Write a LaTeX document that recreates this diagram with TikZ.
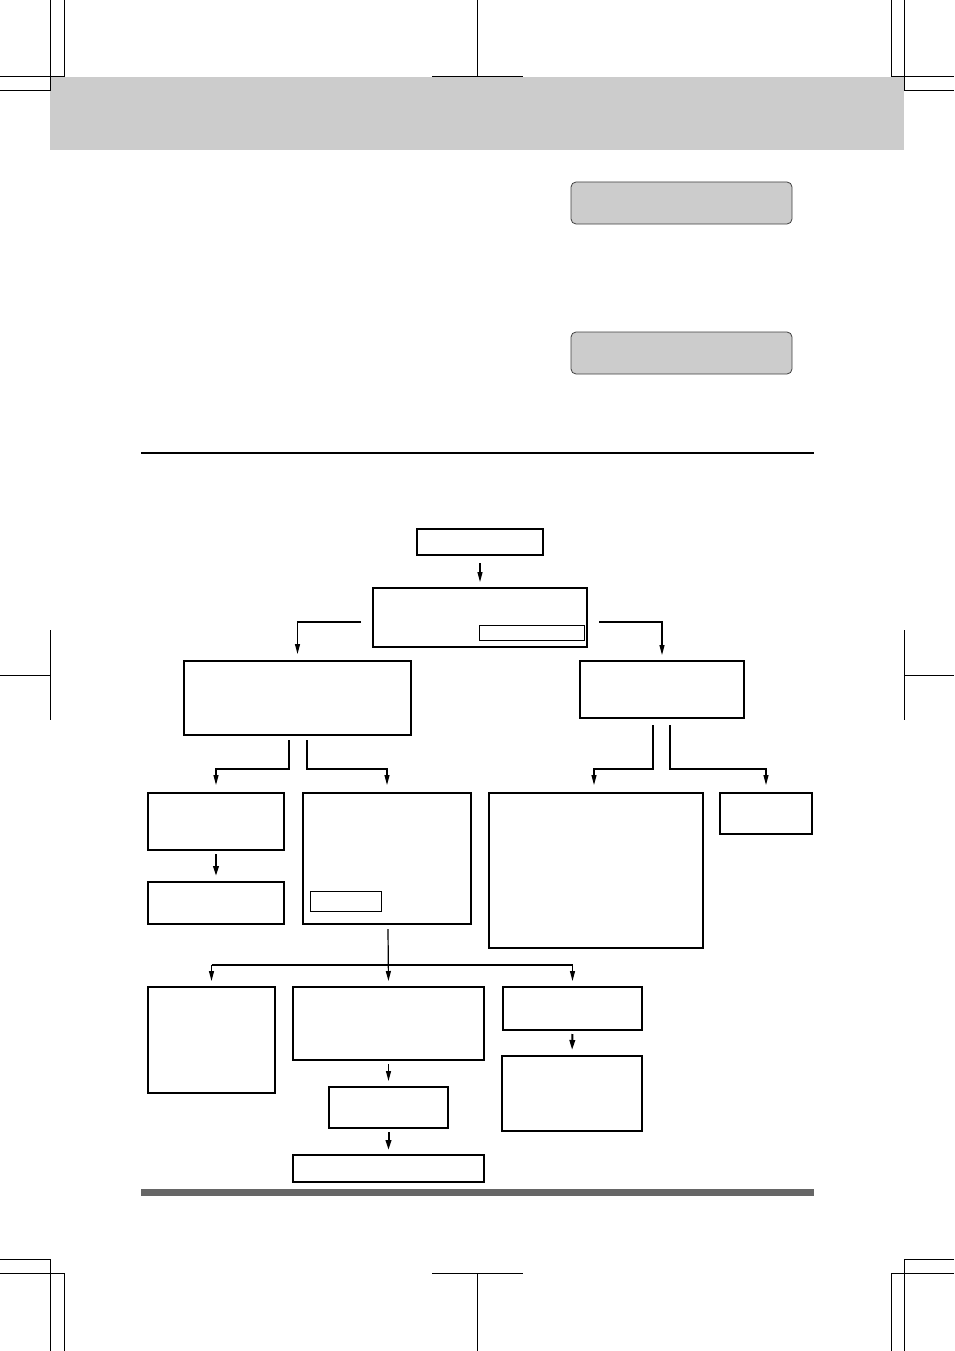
\documentclass[tikz,border=0pt]{standalone}
\usetikzlibrary{arrows.meta,calc}
\definecolor{bandgray}{HTML}{CCCCCC}
\definecolor{bargray}{HTML}{666666}
\begin{document}
\begin{tikzpicture}[x=1pt,y=-1pt,
  fbox/.style={draw=black,line width=2pt,inner sep=0pt,fill=white},
  thinbox/.style={draw=black,line width=1pt,inner sep=0pt},
  lcdbox/.style={draw=black!75,line width=0.8pt,fill=bandgray,rounded corners=5pt,inner sep=0pt},
  crop/.style={line width=1pt},
  conn/.style={line width=1.2pt},
  arr/.style={line width=1.2pt,-{Triangle[length=10pt,width=5pt]}},
  tarr/.style={line width=2pt,-{Triangle[length=10pt,width=5.5pt]}}]
\useasboundingbox (0,0) rectangle (954,1351);
% header band
\fill[bandgray] (50,77) rectangle (904,150);
% crop marks top
\draw[crop] (50,0) -- (50,91) (64,0) -- (64,77) (0,77) -- (64,77) (0,91) -- (50,91);
\draw[crop] (891,0) -- (891,77) (904,0) -- (904,91) (891,77) -- (954,77) (904,91) -- (954,91);
\draw[crop] (477.5,0) -- (477.5,77) (432,77) -- (523,77);
% crop marks sides
\draw[crop] (50,630) -- (50,720) (0,675) -- (50,675);
\draw[crop] (904,630) -- (904,720) (904,675) -- (954,675);
% crop marks bottom
\draw[crop] (0,1259) -- (50,1259) -- (50,1351) (0,1273) -- (64,1273) (64,1273) -- (64,1351);
\draw[crop] (954,1259) -- (904,1259) -- (904,1351) (954,1273) -- (891,1273) (891,1273) -- (891,1351);
\draw[crop] (432,1273) -- (523,1273) (477.5,1273) -- (477.5,1351);
% LCD boxes
\node[lcdbox,minimum width=221pt,minimum height=42pt] (lcd1) at (681.5,203) {};
\node[lcdbox,minimum width=221pt,minimum height=42pt] (lcd2) at (681.5,353) {};
% rule and bottom bar
\draw[line width=2pt] (141,453) -- (814,453);
\fill[bargray] (141,1189) rectangle (814,1196);
% flowchart boxes
\node[fbox,minimum width=126pt,minimum height=26pt] (top) at (480,542) {};
\node[fbox,minimum width=214pt,minimum height=59pt] (b2) at (480,617.5) {};
\node[thinbox,minimum width=105pt,minimum height=15pt] (b2in) at (531.5,632.5) {};
\node[fbox,minimum width=227pt,minimum height=74pt] (L1) at (297.5,698) {};
\node[fbox,minimum width=164pt,minimum height=57pt] (R1) at (662,689.5) {};
\node[fbox,minimum width=136pt,minimum height=57pt] (A) at (216,821.5) {};
\node[fbox,minimum width=136pt,minimum height=42pt] (B) at (216,903) {};
\node[fbox,minimum width=168pt,minimum height=131pt] (C) at (387,858.5) {};
\node[thinbox,minimum width=71.5pt,minimum height=20pt] (Cin) at (345.75,901) {};
\node[fbox,minimum width=214pt,minimum height=155pt] (D) at (596,870.5) {};
\node[fbox,minimum width=92pt,minimum height=41pt] (E) at (766,813.5) {};
\node[fbox,minimum width=127pt,minimum height=106pt] (F) at (211.5,1040) {};
\node[fbox,minimum width=191pt,minimum height=73pt] (G) at (388.5,1023.5) {};
\node[fbox,minimum width=119pt,minimum height=41pt] (H) at (388.5,1107.5) {};
\node[fbox,minimum width=191pt,minimum height=27pt] (I) at (388.5,1168.5) {};
\node[fbox,minimum width=139pt,minimum height=43pt] (J) at (572.5,1008.5) {};
\node[fbox,minimum width=140pt,minimum height=75pt] (K) at (572,1093.5) {};
% connectors
\draw[arr,shorten <=7pt,shorten >=5pt] (top.south) -- (b2.north);
\draw[arr,shorten >=6pt] ([xshift=-11pt,yshift=-4.5pt]b2.west) -| (L1.north);
\draw[arr,shorten >=5pt] ([xshift=11pt,yshift=-4.5pt]b2.east) -| (R1.north);
\draw[arr,shorten >=7pt] ([xshift=-8.5pt,yshift=-4pt]L1.south) |- ($(A.north)+(0,-23)$) -- (A.north);
\draw[arr,shorten >=7pt] ([xshift=9.5pt,yshift=-4pt]L1.south) |- ($(C.north)+(0,-23)$) -- (C.north);
\draw[arr,shorten >=7pt] ([xshift=-9pt,yshift=-6pt]R1.south) |- ($(D.north)+(-2,-23)$) -- ($(D.north)+(-2,0)$);
\draw[arr,shorten >=7pt] ([xshift=8pt,yshift=-6pt]R1.south) |- ($(E.north)+(0,-23)$) -- (E.north);
\draw[tarr,shorten <=3pt,shorten >=5pt] (A.south) -- (B.north);
\coordinate (hub) at (388,965);
\draw[arr,shorten >=5pt] ([xshift=1pt,yshift=-4pt]C.south) -- (G.north);
\draw[conn] (F.north |- hub) -- (J.north |- hub);
\draw[arr,shorten >=5pt] (F.north |- hub) -- (F.north);
\draw[arr,shorten >=5pt] (J.north |- hub) -- (J.north);
\draw[arr,shorten <=3pt,shorten >=5pt] (G.south) -- (H.north);
\draw[tarr,shorten <=3pt,shorten >=4pt] (H.south) -- (I.north);
\draw[tarr,shorten <=3pt,shorten >=5pt] (J.south) -- (K.north);
\end{tikzpicture}
\end{document}
